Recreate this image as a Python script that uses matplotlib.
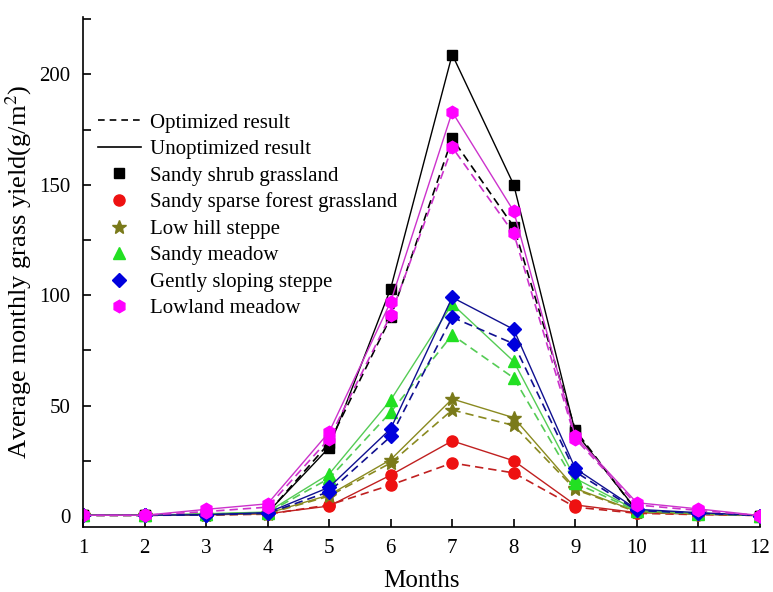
import matplotlib

matplotlib.use("Agg")
import matplotlib.pyplot as plt
from matplotlib.lines import Line2D

plt.rcParams["font.family"] = ["Liberation Serif", "DejaVu Serif"]
plt.rcParams["mathtext.fontset"] = "stix"

months = list(range(1, 13))
names = [
    "Sandy shrub grassland",
    "Sandy sparse forest grassland",
    "Low hill steppe",
    "Sandy meadow",
    "Gently sloping steppe",
    "Lowland meadow",
]
unopt = [
    [0.3, 0.3, 0.8, 1.5, 31, 103, 209, 150, 38, 2.5, 1.2, 0.2],
    [0.3, 0.3, 0.5, 1.0, 4.5, 18.5, 34, 25, 5, 1.5, 0.8, 0.2],
    [0.3, 0.3, 0.6, 1.2, 9.5, 25.5, 53, 44.5, 12.5, 2.0, 1.0, 0.2],
    [0.3, 0.3, 1.0, 1.8, 19, 52.5, 96, 70, 17, 2.5, 1.2, 0.2],
    [0.3, 0.3, 0.6, 1.5, 13, 39.5, 99, 84.5, 21.5, 3.0, 1.5, 0.2],
    [0.3, 0.3, 3.0, 5.5, 38, 97, 183, 138, 36, 6.0, 3.2, 0.2],
]
opt = [
    [0.3, 0.3, 0.7, 1.3, 33, 90, 171, 131, 39, 2.0, 1.0, 0.2],
    [0.3, 0.3, 0.4, 0.8, 5, 14, 24, 19.5, 4, 1.2, 0.6, 0.2],
    [0.3, 0.3, 0.5, 1.0, 9, 24, 48, 41, 12, 1.8, 0.9, 0.2],
    [0.3, 0.3, 0.8, 1.5, 17, 47, 82, 62.5, 15, 2.2, 1.0, 0.2],
    [0.3, 0.3, 0.5, 1.2, 11, 36, 90, 78, 20, 2.5, 1.2, 0.2],
    [0.3, 0.3, 2.0, 4.0, 35, 91, 167, 128, 35, 5.0, 2.5, 0.2],
]
marker_colors = ["#000000", "#ee1111", "#7a7a1a", "#22e022", "#0000dd", "#ff00ff"]
line_colors = ["#000000", "#c02020", "#8a8a20", "#55cc55", "#101090", "#cc33cc"]
markers = ["s", "o", "*", "^", "D", "h"]
sizes = [7, 8, 10, 8, 7, 9]

fig = plt.figure(figsize=(7.73, 5.92), dpi=100)
ax = fig.add_axes([0.1074, 0.1098, 0.8756, 0.8615])

for i in range(len(names)):
    ax.plot(months, opt[i], ls=(0, (5, 3)), lw=1.2, color=line_colors[i],
            marker=markers[i], ms=sizes[i], mfc=marker_colors[i], mec=marker_colors[i])
    ax.plot(months, unopt[i], ls="-", lw=1.0, color=line_colors[i],
            marker=markers[i], ms=sizes[i], mfc=marker_colors[i], mec=marker_colors[i])

ax.set_xlim(1, 12)
ax.set_ylim(-5, 226)
ax.set_xticks(months)
ax.set_yticks([0, 50, 100, 150, 200])
ax.set_yticks([25, 75, 125, 175, 225], minor=True)
ax.tick_params(direction="in", length=6, width=1.2, labelsize=15, pad=9)
ax.tick_params(which="minor", direction="in", length=6, width=1.2)
ax.spines["top"].set_visible(False)
ax.spines["right"].set_visible(False)
for s in ["left", "bottom"]:
    ax.spines[s].set_linewidth(1.2)
ax.set_xlabel("Months", fontsize=18, labelpad=8)
ax.set_ylabel("Average monthly grass yield(g/m$^2$)", fontsize=19, labelpad=4)

handles = [
    Line2D([], [], color="black", ls=(0, (4, 3)), lw=1.2),
    Line2D([], [], color="black", ls="-", lw=1.2),
]
labels = ["Optimized result", "Unoptimized result"]
for i in range(len(names)):
    handles.append(Line2D([], [], ls="none", marker=markers[i], ms=sizes[i],
                          mfc=marker_colors[i], mec=marker_colors[i]))
    labels.append(names[i])
ax.legend(handles, labels, loc="upper left", bbox_to_anchor=(0.0, 0.84),
          frameon=False, fontsize=15, handlelength=2.1, handletextpad=0.4,
          labelspacing=0.33, borderaxespad=0.3)

fig.savefig("out.png")
